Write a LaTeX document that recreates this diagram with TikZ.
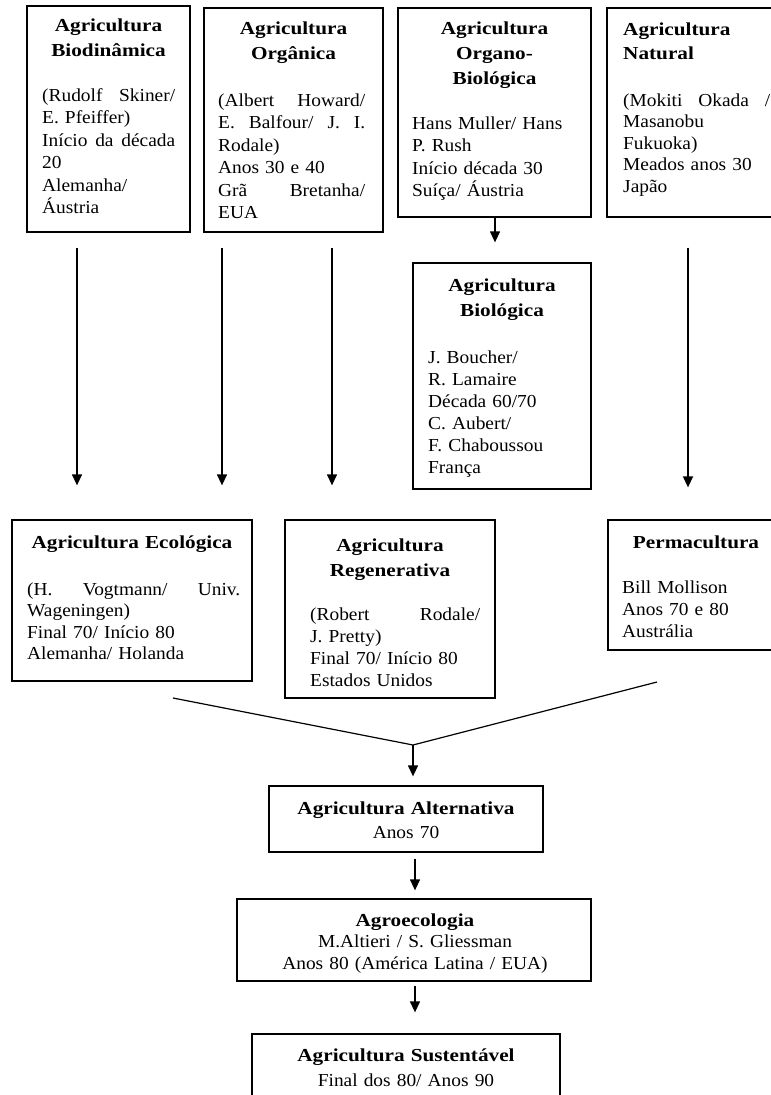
\documentclass[tikz,border=0pt]{standalone}
\usepackage{fontspec}
\setmainfont{Liberation Serif}[FakeStretch=1.06]
\newfontfamily\hdfont{Liberation Serif Bold}[FakeStretch=1.16]
\usetikzlibrary{arrows.meta}
\newcommand{\jline}[1]{\noindent\hbox to \hsize{\spaceskip=0.25em plus 1fil\relax #1}}
\begin{document}
\begin{tikzpicture}[x=1pt,y=-1pt,
  frame/.style={draw, line width=1.3pt, inner sep=0pt},
  ttl/.style={font=\fontsize{18.3}{25}\hdfont, inner sep=0pt, align=center, anchor=base},
  ttlL/.style={font=\fontsize{18.3}{24}\hdfont, inner sep=0pt, align=left, anchor=base west, text width=150pt},
  bodytxt/.style={font=\fontsize{18.3}{#1}\selectfont, inner sep=0pt, align=left, anchor=base west},
  bodytxt/.default=22.5,
  ctr/.style={font=\fontsize{18.3}{#1}\selectfont, inner sep=0pt, align=center, anchor=base, text width=340pt},
  ctr/.default=23,
  arr/.style={line width=1.3pt, -{Triangle[length=11pt,width=10pt]}},
  ln/.style={line width=1.2pt}]
\useasboundingbox (0,0) rectangle (771,1095);
\fill[white] (0,0) rectangle (771,1095);

% boxes
\node[frame, minimum width=163pt, minimum height=226pt] (bio) at (108.5,119) {};
\node[frame, minimum width=179pt, minimum height=224pt] (org) at (293.5,120) {};
\node[frame, minimum width=193pt, minimum height=209pt] (orb) at (494.5,112.5) {};
\node[frame, minimum width=183pt, minimum height=209pt] (nat) at (698.5,112.5) {};
\node[frame, minimum width=178pt, minimum height=226pt] (biol) at (502,376) {};
\node[frame, minimum width=240pt, minimum height=161pt] (eco) at (132,600.5) {};
\node[frame, minimum width=210pt, minimum height=178pt] (reg) at (390,609) {};
\node[frame, minimum width=182pt, minimum height=130pt] (perm) at (699,585) {};
\node[frame, minimum width=274pt, minimum height=66pt] (alt) at (406,819) {};
\node[frame, minimum width=354pt, minimum height=82pt] (agro) at (414,940) {};
\node[frame, minimum width=308pt, minimum height=76pt] (sust) at (406,1072) {};

% titles
\node[ttl, text width=155pt] (bioH) at (108.5,31) {Agricultura\\Biodinâmica};
\node[ttl, text width=170pt] (orgH) at (293.5,34) {Agricultura\\Orgânica};
\node[ttl, text width=185pt] (orbH) at (494.5,34) {Agricultura\\Organo-\\Biológica};
\node[ttlL] (natH) at (623,35) {Agricultura\\Natural};
\node[ttl, text width=170pt] (biolH) at (502,291) {Agricultura\\Biológica};
\node[ttl, text width=232pt] (ecoH) at (132,548) {Agricultura Ecológica};
\node[ttl, text width=200pt] (regH) at (390,551) {Agricultura\\Regenerativa};
\node[ttl, text width=170pt] (permH) at (696,548) {Permacultura};

% bodies
\node[bodytxt, text width=133pt] (bioB) at (42,101)
  {\jline{(Rudolf Skiner/}\\E. Pfeiffer)\\\jline{Início da década}\\20\\Alemanha/\\Áustria};
\node[bodytxt, text width=147pt] (orgB) at (218,106)
  {\jline{(Albert Howard/}\\\jline{E. Balfour/ J. I.}\\Rodale)\\Anos 30 e 40\\\jline{Grã Bretanha/}\\EUA};
\node[bodytxt, text width=170pt] (orbB) at (412,129)
  {Hans Muller/ Hans\\P. Rush\\Início década 30\\Suíça/ Áustria};
\node[bodytxt=21.5, text width=147pt] (natB) at (623,106)
  {\jline{(Mokiti Okada /}\\Masanobu\\Fukuoka)\\Meados anos 30\\Japão};
\node[bodytxt=22, text width=150pt] (biolB) at (428,363)
  {J. Boucher/\\R. Lamaire\\Década 60/70\\C. Aubert/\\F. Chaboussou\\França};
\node[bodytxt=21.5, text width=213pt] (ecoB) at (27,595)
  {\jline{(H. Vogtmann/ Univ.}\\Wageningen)\\Final 70/ Início 80\\Alemanha/ Holanda};
\node[bodytxt=22, text width=170pt] (regB) at (310,620)
  {\jline{(Robert Rodale/}\\J. Pretty)\\Final 70/ Início 80\\Estados Unidos};
\node[bodytxt=22, text width=150pt] (permB) at (622,593)
  {Bill Mollison\\Anos 70 e 80\\Austrália};

\node[ctr=24] (altT) at (406,814) {{\hdfont Agricultura Alternativa}\\Anos 70};
\node[ctr=21.5] (agroT) at (415,926) {{\hdfont Agroecologia}\\M.Altieri / S. Gliessman\\Anos 80 (América Latina / EUA)};
\node[ctr=25] (sustT) at (406,1061) {{\hdfont Agricultura Sustentável}\\Final dos 80/ Anos 90};

% connector columns
\coordinate (c1) at (77,0);
\coordinate (c2) at (222,0);
\coordinate (c3) at (332,0);
\coordinate (c4) at (495,0);
\coordinate (c5) at (688,0);
\coordinate (c6) at (415,0);
\coordinate (m1) at (173,698);
\coordinate (m2) at (657,682);
\coordinate (j) at (413,745);

\draw[arr, shorten <=15pt, shorten >=34pt] (bio.south -| c1) -- (eco.north -| c1);
\draw[arr, shorten <=15pt, shorten >=34pt] (org.south -| c2) -- (eco.north -| c2);
\draw[arr, shorten <=15pt, shorten >=34pt] (org.south -| c3) -- (reg.north -| c3);
\draw[arr, shorten >=20pt] (orb.south -| c4) -- (biol.north -| c4);
\draw[arr, shorten <=30pt, shorten >=32pt] (nat.south -| c5) -- (perm.north -| c5);
\draw[ln] (m1) -- (j) -- (m2);
\draw[arr, shorten >=9pt] (j) -- (j |- alt.north);
\draw[arr, shorten <=6pt, shorten >=8pt] (alt.south -| c6) -- (agro.north -| c6);
\draw[arr, shorten <=4pt, shorten >=21pt] (agro.south -| c6) -- (sust.north -| c6);
\end{tikzpicture}
\end{document}
